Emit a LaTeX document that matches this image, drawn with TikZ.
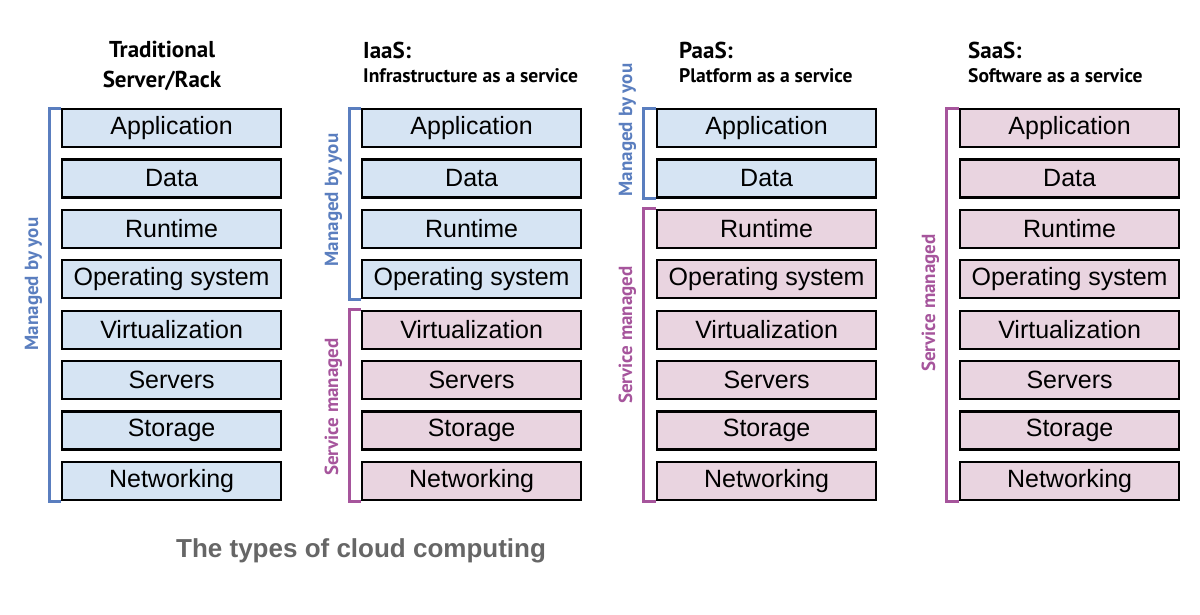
\documentclass[tikz,border=0pt]{standalone}
\usepackage{fontspec}
\setmainfont{Liberation Sans}
\newfontfamily\hdfont{PT Sans}
\newfontfamily\capfont{Liberation Sans}
\usetikzlibrary{calc}
\definecolor{bluefill}{HTML}{D6E4F3}
\definecolor{pinkfill}{HTML}{E9D4E0}
\definecolor{bluebr}{HTML}{5A7EBF}
\definecolor{pinkbr}{HTML}{A6559C}
\definecolor{capgray}{HTML}{666666}
\tikzset{
  layer/.style={draw=black, line width=2.2pt, minimum width=219pt, minimum height=38pt,
    inner sep=0pt, font=\fontsize{25}{28}\selectfont, anchor=north west},
  bl/.style={layer, fill=bluefill},
  pk/.style={layer, fill=pinkfill},
  brkblue/.style={draw=bluebr, line width=3pt},
  brkpink/.style={draw=pinkbr, line width=3pt},
  sidelbl/.style={rotate=90, anchor=base, inner sep=0pt, font=\hdfont\bfseries\fontsize{19}{22}\selectfont},
  hdbig/.style={inner sep=0pt, font=\hdfont\bfseries\fontsize{23}{26}\selectfont},
  hdsmall/.style={inner sep=0pt, font=\hdfont\bfseries\fontsize{19.6}{22}\selectfont, anchor=base west},
}
\begin{document}
\begin{tikzpicture}[x=1pt,y=-1pt]
\useasboundingbox (0,0) rectangle (1200,614);
\fill[white] (0,0) rectangle (1200,614);
% column 1: all blue
\foreach \i/\t in {0/Application,1/Data,2/Runtime,3/Operating system,4/Virtualization,5/Servers,6/Storage,7/Networking}{
  \node[bl] (a\i) at (61,{108+50.4*\i}) {\t};
}
% column 2
\foreach \i/\t in {0/Application,1/Data,2/Runtime,3/Operating system}{
  \node[bl] (b\i) at (361,{108+50.4*\i}) {\t};
}
\foreach \i/\t in {4/Virtualization,5/Servers,6/Storage,7/Networking}{
  \node[pk] (b\i) at (361,{108+50.4*\i}) {\t};
}
% column 3
\foreach \i/\t in {0/Application,1/Data}{
  \node[bl] (c\i) at (656,{108+50.4*\i}) {\t};
}
\foreach \i/\t in {2/Runtime,3/Operating system,4/Virtualization,5/Servers,6/Storage,7/Networking}{
  \node[pk] (c\i) at (656,{108+50.4*\i}) {\t};
}
% column 4
\foreach \i/\t in {0/Application,1/Data,2/Runtime,3/Operating system,4/Virtualization,5/Servers,6/Storage,7/Networking}{
  \node[pk] (d\i) at (959,{108+50.4*\i}) {\t};
}
% brackets
\draw[brkblue] (a0.north west) -- ++(-12,0) |- (a7.south west);
\draw[brkblue] (b0.north west) -- ++(-12,0) |- (b3.south west);
\draw[brkpink] (b4.north west) -- ++(-12,0) |- (b7.south west);
\draw[brkblue] (c0.north west) -- ++(-13,0) |- (c1.south west);
\draw[brkpink] (c2.north west) -- ++(-13,0) |- (c7.south west);
\draw[brkpink] (d0.north west) -- ++(-13,0) |- (d7.south west);
% side labels
\node[sidelbl, text=bluebr] (la) at (38,284) {Managed by you};
\node[sidelbl, text=bluebr] (lb1) at (338,200) {Managed by you};
\node[sidelbl, text=pinkbr] (lb2) at (338,407) {Service managed};
\node[sidelbl, text=bluebr] (lc1) at (632,130) {Managed by you};
\node[sidelbl, text=pinkbr] (lc2) at (632,335) {Service managed};
\node[sidelbl, text=pinkbr] (ld) at (935,303) {Service managed};
% headers
\node[hdbig, anchor=base] (h1a) at (162,57) {Traditional};
\node[hdbig, anchor=base] (h1b) at (162,87) {Server/Rack};
\node[hdbig, anchor=base west] (h2a) at (363,58) {IaaS:};
\node[hdsmall] (h2b) at (363,82) {Infrastructure as a service};
\node[hdbig, anchor=base west] (h3a) at (679,58) {PaaS:};
\node[hdsmall] (h3b) at (679,82) {Platform as a service};
\node[hdbig, anchor=base west] (h4a) at (968,58) {SaaS:};
\node[hdsmall] (h4b) at (968,82) {Software as a service};
% caption
\node[inner sep=0pt, anchor=base west, text=capgray, font=\capfont\bfseries\fontsize{26}{30}\selectfont] (cap) at (176,557) {The types of cloud computing};
\end{tikzpicture}
\end{document}
